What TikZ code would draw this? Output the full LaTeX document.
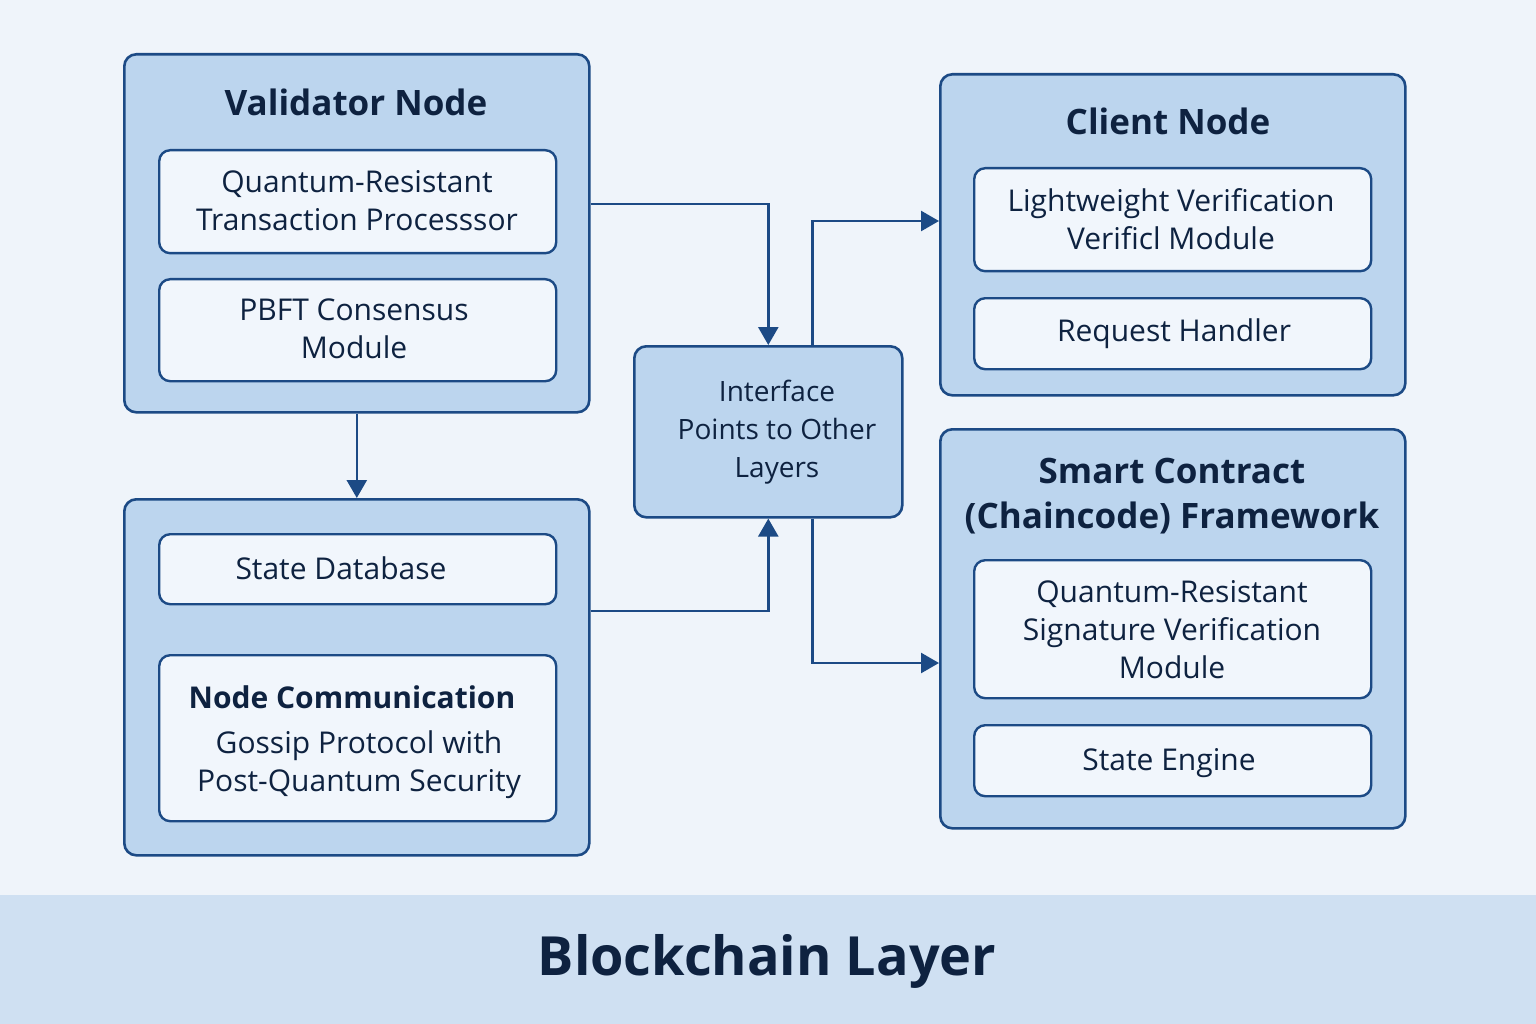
\documentclass[tikz,border=0pt]{standalone}
\usepackage{fontspec}
\setmainfont{Open Sans}
\usetikzlibrary{arrows.meta,calc}
\definecolor{bg}{HTML}{EFF4FA}
\definecolor{band}{HTML}{CFE0F2}
\definecolor{outerfill}{HTML}{BCD5EE}
\definecolor{innerfill}{HTML}{F1F6FC}
\definecolor{edge}{HTML}{1C4A85}
\definecolor{ink}{HTML}{0E2240}
\tikzset{
  outerbox/.style={draw=edge, line width=2.6pt, fill=outerfill, rounded corners=12pt, anchor=north west, inner sep=0pt},
  innerbox/.style={draw=edge, line width=2.4pt, fill=innerfill, rounded corners=11pt, anchor=north west, inner sep=0pt},
  ttl/.style={text=ink, font=\fontsize{35}{45}\selectfont\bfseries, align=center, inner sep=0pt},
  body/.style={text=ink, font=\fontsize{30}{38}\selectfont, align=center, inner sep=0pt},
  conn/.style={draw=edge, line width=2.6pt, -{Triangle[width=20pt,length=18pt]}}
}
\begin{document}
\begin{tikzpicture}[x=1pt,y=-1pt]
\useasboundingbox (0,0) rectangle (1536,1024);
\fill[bg] (0,0) rectangle (1536,1024);
\fill[band] (0,895) rectangle (1536,1024);

% Validator node
\node[outerbox, minimum width=465pt, minimum height=358pt] (val) at (123,53) {};
\node[ttl] (valt) at (356,102) {Validator Node};
\node[innerbox, minimum width=397pt, minimum height=103pt] (qtp) at (158,149) {};
\node[body] (qtpt) at (357,201) {Quantum-Resistant\\Transaction Processsor};
\node[innerbox, minimum width=397pt, minimum height=102pt] (pbft) at (158,278) {};
\node[body] (pbftt) at (354,329) {PBFT Consensus\\Module};

% Lower left
\node[outerbox, minimum width=465pt, minimum height=356pt] (low) at (123,498) {};
\node[innerbox, minimum width=397pt, minimum height=70pt] (sdb) at (158,533) {};
\node[body] (sdbt) at (341,568) {State Database};
\node[innerbox, minimum width=397pt, minimum height=166pt] (ncom) at (158,654) {};
\node[text=ink, font=\fontsize{30}{38}\selectfont\bfseries, inner sep=0pt] (ncomh) at (352,697) {Node Communication};
\node[body] (ncomt) at (359,765) {Gossip Protocol with\\Post-Quantum Security};

% Interface
\node[outerbox, minimum width=268pt, minimum height=171pt] (iface) at (633,345) {};
\node[body, font=\fontsize{28}{38}\selectfont] (ifacet) at (777,432) {Interface\\Points to Other\\Layers};

% Client node
\node[outerbox, minimum width=465pt, minimum height=321pt] (cl) at (939,73) {};
\node[ttl] (clt) at (1168,121) {Client Node};
\node[innerbox, minimum width=397pt, minimum height=103pt] (lwv) at (973,167) {};
\node[body] (lwvt) at (1171,219) {Lightweight Verification\\Verificl Module};
\node[innerbox, minimum width=397pt, minimum height=71pt] (rh) at (973,297) {};
\node[body] (rht) at (1174,334) {Request Handler};

% Smart contract
\node[outerbox, minimum width=465pt, minimum height=399pt] (sc) at (939,428) {};
\node[ttl] (sct) at (1172,496) {Smart Contract\\(Chaincode) Framework};
\node[innerbox, minimum width=397pt, minimum height=138pt] (qrs) at (973,559) {};
\node[body] (qrst) at (1172,630) {Quantum-Resistant\\Signature Verification\\Module};
\node[innerbox, minimum width=397pt, minimum height=71pt] (se) at (973,724) {};
\node[body] (set) at (1169,763) {State Engine};

% Footer
\node[text=ink, font=\fontsize{54}{64}\selectfont\bfseries, inner sep=0pt] (foot) at (767,961) {Blockchain Layer};

% Connectors
\draw[conn] (val.south) -- (low.north);
\draw[conn] (val.east |- 0,204) -| (iface.north);
\draw[conn] (low.east |- 0,611) -| (iface.south);
\draw[conn] ($(iface.north)+(44,0)$) |- (cl.west |- 0,221);
\draw[conn] ($(iface.south)+(44,0)$) |- (sc.west |- 0,663);
\end{tikzpicture}
\end{document}
